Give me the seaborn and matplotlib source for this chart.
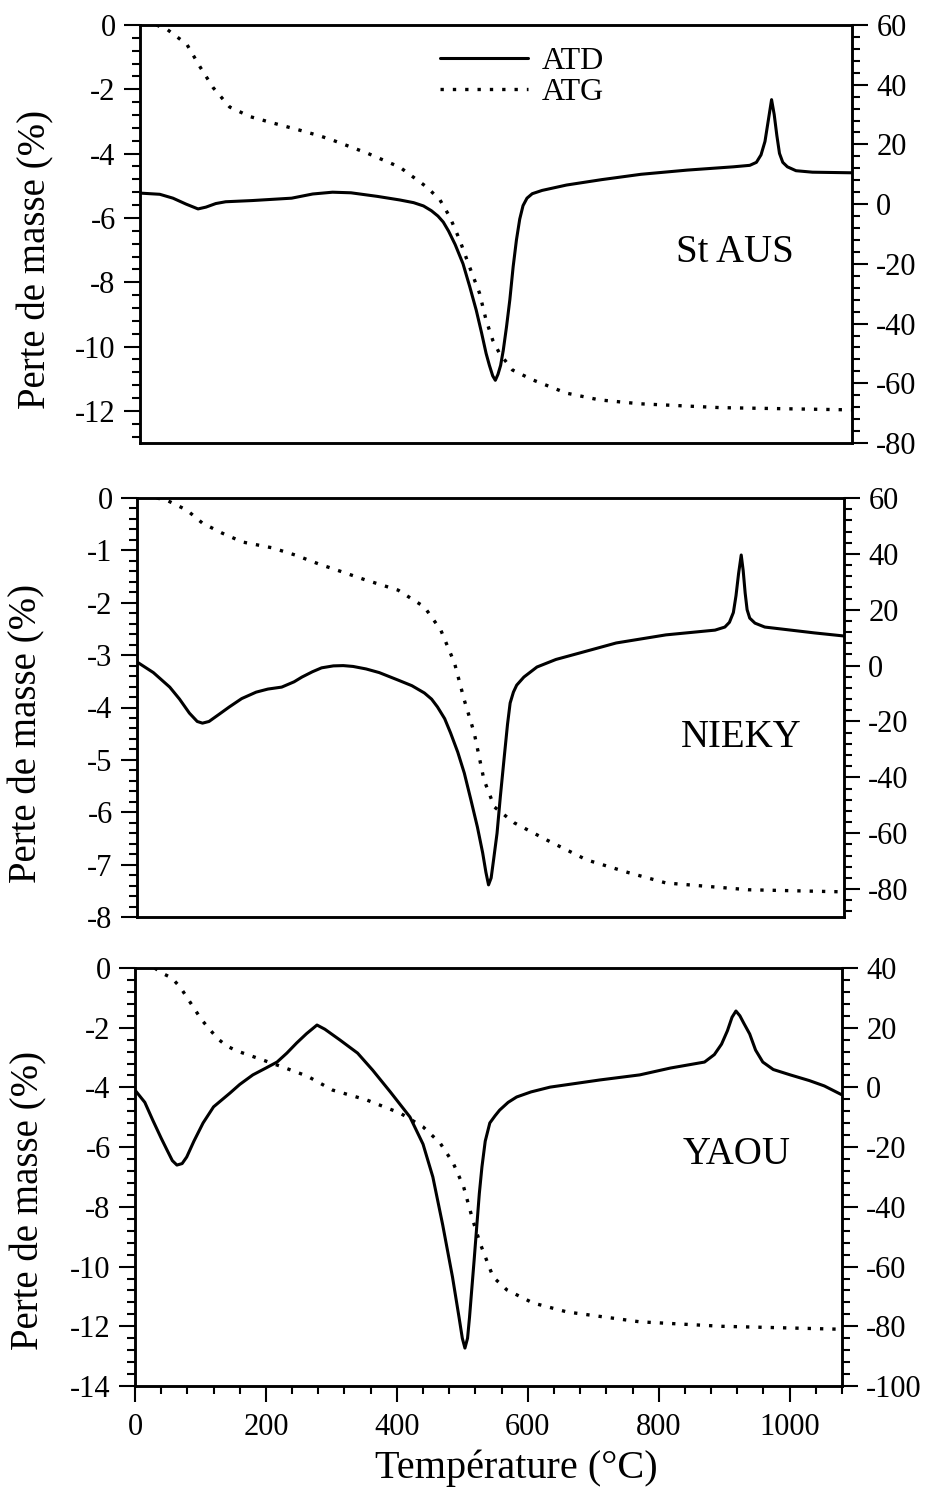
import matplotlib.pyplot as plt
from matplotlib.ticker import MultipleLocator
import seaborn as sns

# --- St AUS : ATD (right axis) and ATG (left axis, perte de masse %)
staus_atd_T = [0, 30, 50, 70, 88, 100, 115, 130, 170, 230, 262, 292, 320, 360, 394, 415,
               430, 442, 452, 460, 468, 478, 490, 500, 510, 518, 525, 530, 535, 539, 543,
               547, 551, 556, 561, 566, 571, 576, 581, 587, 595, 610, 647, 700, 760, 830,
               900, 925, 935, 942, 948, 953, 958, 962, 966, 970, 975, 982, 995, 1020, 1080]
staus_atd = [3.7, 3.3, 2.0, 0.0, -1.6, -1.0, 0.2, 0.8, 1.2, 2.0, 3.4, 4.0, 3.8, 2.6, 1.4, 0.5,
             -0.6, -2.2, -4.0, -6.0, -9.0, -13.5, -20, -27.5, -35.5, -43, -50, -54, -57.5,
             -59, -57, -54, -49, -41, -32, -21, -12, -5, -0.5, 2.0, 3.5, 4.6, 6.4, 8.2, 10.0,
             11.4, 12.5, 13.0, 14, 16.5, 21, 28, 35, 30, 23, 17, 14, 12.5, 11.2, 10.7, 10.5]
staus_atg_T = [25, 42, 71, 91, 111, 136, 167, 202, 242, 273, 292, 344, 394, 435, 455,
               470, 485, 500, 515, 525, 535, 545, 565, 596, 647, 697, 758, 880, 1080]
staus_atg = [0.0, -0.15, -0.6, -1.3, -1.95, -2.55, -2.85, -3.05, -3.27, -3.45, -3.58,
             -3.98, -4.42, -5.04, -5.44, -5.97, -6.69, -7.53, -8.34, -9.18, -9.8, -10.2,
             -10.73, -11.04, -11.45, -11.66, -11.78, -11.9, -11.97]

# --- NIEKY
nieky_atd_T = [0, 25, 50, 65, 80, 92, 100, 110, 125, 141, 160, 182, 200, 221, 240, 252, 268,
               282, 300, 315, 330, 350, 370, 399, 420, 439, 450, 459, 470, 479, 490, 500,
               510, 520, 528, 533, 537, 541, 545, 550, 555, 561, 566, 570, 575, 580, 591,
               611, 640, 676, 732, 808, 883, 898, 905, 911, 915, 919, 923, 926, 929, 932,
               936, 944, 959, 1035, 1080]
nieky_atd = [1.3, -2.5, -7.7, -12, -17, -20, -20.6, -20, -17.5, -14.8, -11.8, -9.5, -8.4,
             -7.7, -5.8, -4.1, -2.2, -0.8, -0.1, 0.0, -0.3, -1.2, -2.5, -5.2, -7.2, -9.8,
             -12, -14.8, -19, -24.1, -31, -38.5, -48, -57.8, -67, -74, -78.5, -76, -69, -60,
             -47, -32.7, -21, -13.4, -9.5, -7.0, -4.1, -0.5, 2.2, 4.5, 8.1, 11.0, 12.7, 13.8,
             15.5, 19, 25, 33, 39.6, 34, 26, 20, 17, 15.2, 13.8, 11.7, 10.6]
nieky_atg_T = [30, 45, 76, 100, 130, 161, 206, 242, 282, 297, 348, 399, 439, 464, 485,
               500, 515, 530, 546, 576, 626, 687, 750, 808, 934, 1080]
nieky_atg = [0.0, -0.04, -0.23, -0.48, -0.67, -0.84, -0.95, -1.09, -1.28, -1.34, -1.56,
             -1.76, -2.08, -2.52, -3.15, -3.86, -4.48, -5.38, -5.9, -6.2, -6.53, -6.91,
             -7.15, -7.35, -7.48, -7.52]

# --- YAOU
yaou_atd_T = [0, 15, 27, 40, 49, 57, 64, 72, 79, 90, 104, 120, 145, 160, 180, 200, 217, 232,
              247, 262, 278, 290, 313, 340, 363, 390, 420, 440, 455, 470, 485, 495, 500,
              504, 508, 511, 514, 518, 522, 526, 530, 535, 542, 550, 557, 570, 583, 605,
              634, 710, 771, 818, 870, 885, 896, 905, 912, 918, 924, 930, 939, 948, 959,
              975, 1001, 1030, 1053, 1080]
yaou_atd = [-0.9, -5, -10.9, -17, -21, -24.5, -26, -25.5, -23.3, -18, -11.9, -6.5, -1.9, 1,
            4.2, 6.5, 8.5, 11.5, 14.9, 18, 20.9, 19.5, 15.9, 11.5, 5.8, -1.5, -9.9, -19,
            -30, -46, -63.5, -77, -84, -87.3, -84, -77, -68.8, -58, -46.7, -35.5, -26.6,
            -18, -11.9, -9.5, -7.6, -5, -3.2, -1.5, 0.1, 2.5, 4.2, 6.5, 8.5, 11, 14.5, 19.0,
            23.5, 25.6, 24, 21.5, 17.9, 12.5, 8.5, 6, 4.2, 2.3, 0.5, -2.5]
yaou_atg_T = [30, 41, 56, 69, 79, 92, 102, 115, 127, 140, 156, 186, 226, 263, 302, 354,
              405, 440, 466, 486, 502, 516, 527, 537, 547, 568, 608, 660, 771, 896, 1080]
yaou_atg = [0.0, -0.17, -0.33, -0.64, -0.97, -1.41, -1.74, -2.08, -2.38, -2.61, -2.78,
            -3.01, -3.32, -3.62, -4.09, -4.42, -4.86, -5.32, -5.86, -6.53, -7.33, -8.44,
            -9.21, -9.78, -10.35, -10.78, -11.22, -11.52, -11.85, -12.0, -12.1]

sns.set_theme(style="ticks")
plt.rcParams['font.family'] = ['Liberation Serif', 'DejaVu Serif']
plt.rcParams['axes.unicode_minus'] = False
plt.rcParams['axes.linewidth'] = 1.8
for k in ['axes.edgecolor', 'text.color', 'axes.labelcolor', 'xtick.color', 'ytick.color']:
    plt.rcParams[k] = 'black'

W, H = 927, 1498
fig = plt.figure(figsize=(W / 100, H / 100), dpi=100)


def rect(l, r, t, b):
    return [l / W, 1 - b / H, (r - l) / W, (b - t) / H]


panels = [
    dict(name='St AUS', box=(140, 852, 25, 443), left=(-13, 0, 2, 0.4), right=(-80, 60, 20, 4),
         atd=(staus_atd_T, staus_atd), atg=(staus_atg_T, staus_atg),
         name_xy=(0.836, 0.433), ylab_xy=(-0.146, 0.438)),
    dict(name='NIEKY', box=(137, 844, 498, 917), left=(-8, 0, 1, 0.2), right=(-90, 60, 20, 4),
         atd=(nieky_atd_T, nieky_atd), atg=(nieky_atg_T, nieky_atg),
         name_xy=(0.854, 0.406), ylab_xy=(-0.156, 0.439)),
    dict(name='YAOU', box=(135, 842, 968, 1386), left=(-14, 0, 2, 0.4), right=(-100, 40, 20, 4),
         atd=(yaou_atd_T, yaou_atd), atg=(yaou_atg_T, yaou_atg),
         name_xy=(0.851, 0.531), ylab_xy=(-0.150, 0.445)),
]

tick_kw = dict(direction='out', width=1.5, labelsize=22, pad=6)

for i, p in enumerate(panels):
    ax = fig.add_axes(rect(*p['box']))
    ax2 = ax.twinx()

    sns.lineplot(x=p['atg'][0], y=p['atg'][1], ax=ax, color='black', linewidth=2.4,
                 linestyle=(0, (1, 2.7)), estimator=None, sort=False, legend=False)
    sns.lineplot(x=p['atd'][0], y=p['atd'][1], ax=ax2, color='black', linewidth=2.2,
                 estimator=None, sort=False, legend=False)

    ax.set_xlim(0, 1080)
    ax.set_ylim(p['left'][0], p['left'][1])
    ax2.set_ylim(p['right'][0], p['right'][1])

    ax.yaxis.set_major_locator(MultipleLocator(p['left'][2]))
    ax.yaxis.set_minor_locator(MultipleLocator(p['left'][3]))
    ax2.yaxis.set_major_locator(MultipleLocator(p['right'][2]))
    ax2.yaxis.set_minor_locator(MultipleLocator(p['right'][3]))

    ax.tick_params(axis='y', which='both', left=True, right=False, **tick_kw)
    ax.tick_params(axis='y', which='major', length=11.5)
    ax.tick_params(axis='y', which='minor', length=6)
    ax2.tick_params(axis='y', which='both', right=True, left=False, **tick_kw)
    ax2.tick_params(axis='y', which='major', length=11.5)
    ax2.tick_params(axis='y', which='minor', length=6)

    if i == 2:
        ax.xaxis.set_major_locator(MultipleLocator(200))
        ax.xaxis.set_minor_locator(MultipleLocator(40))
        ax.tick_params(axis='x', which='both', bottom=True, labelbottom=True, **tick_kw)
        ax.tick_params(axis='x', which='major', length=11.5, pad=8)
        ax.tick_params(axis='x', which='minor', length=6)
        ax.set_xlabel('Température (°C)', fontsize=29)
        ax.xaxis.set_label_coords(0.539, -0.153)
    else:
        ax.tick_params(axis='x', which='both', bottom=False, labelbottom=False)
        ax.set_xlabel('')

    ax.set_ylabel('Perte de masse (%)', fontsize=28, va='center')
    ax.yaxis.set_label_coords(*p['ylab_xy'])
    ax2.set_ylabel('')

    ax.text(p['name_xy'][0], p['name_xy'][1], p['name'], transform=ax.transAxes,
            fontsize=28, ha='center', va='baseline')

    for a in (ax, ax2):
        for s in a.spines.values():
            s.set_linewidth(1.8)
            s.set_color('black')

    if i == 0:
        ax2.legend([ax2.lines[0], ax.lines[0]], ['ATD', 'ATG'], loc='upper left',
                   bbox_to_anchor=(0.421, 0.948), frameon=False, fontsize=23,
                   handlelength=2.75, handletextpad=0.45, labelspacing=0.05,
                   borderpad=0, borderaxespad=0)

fig.savefig('out.png', dpi=100)
